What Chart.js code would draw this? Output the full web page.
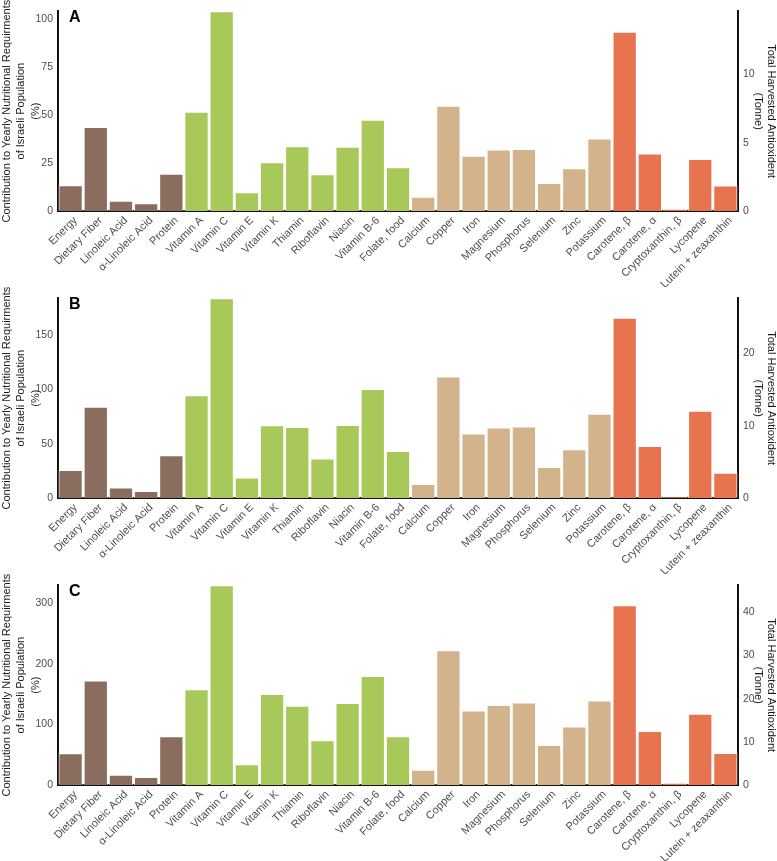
<!DOCTYPE html>
<html>
<head>
<meta charset="utf-8">
<script src="https://cdn.jsdelivr.net/npm/chart.js@4.4.0/dist/chart.umd.min.js"></script>
<style>
  body { margin: 0; background: #fff; }
  .panel { width: 777px; height: 287px; position: relative; }
</style>
</head>
<body>
<div class="panel"><canvas id="chartA" width="777" height="287"></canvas></div>
<div class="panel"><canvas id="chartB" width="777" height="287"></canvas></div>
<div class="panel"><canvas id="chartC" width="777" height="287"></canvas></div>
<script>
var nutrients = ['Energy', 'Dietary Fiber', 'Linoleic Acid', 'α-Linoleic Acid', 'Protein',
  'Vitamin A', 'Vitamin C', 'Vitamin E', 'Vitamin K', 'Thiamin', 'Riboflavin', 'Niacin', 'Vitamin B-6', 'Folate, food',
  'Calcium', 'Copper', 'Iron', 'Magnesium', 'Phosphorus', 'Selenium', 'Zinc', 'Potassium'];
var antioxidants = ['Carotene, β', 'Carotene, α', 'Cryptoxanthin, β', 'Lycopene', 'Lutein + zeaxanthin'];

// how many bars in each colour group (macro, vitamins, minerals)
var groupSizes = [5, 9, 8];

// % of yearly requirement (left axis)
var nutrientsA = [13.5, 43.8, 5.3, 4, 19.5, 51.8, 104.2, 9.8, 25.5, 33.8, 19.2, 33.5, 47.6, 22.8, 7.4, 54.9, 28.8, 32.1, 32.4, 14.6, 22.3, 37.8];
var nutrientsB = [25.9, 84, 9.7, 6.4, 39.3, 94.7, 184, 18.9, 67, 65.5, 36.3, 67.3, 100.5, 43.3, 12.8, 112, 59.4, 64.9, 65.8, 28.6, 45, 77.7];
var nutrientsC = [52.5, 172.6, 16.9, 13.1, 80.3, 157.9, 329.5, 34.4, 150.3, 130.6, 73.8, 135.5, 179.8, 80.3, 25.1, 222.4, 123, 132.2, 136, 66, 96.7, 139.3];

// tonnes harvested (right axis)
var antioxA = [13.1, 4.2, 0.17, 3.8, 1.86];
var antioxB = [24.9, 7.2, 0.22, 12.05, 3.5];
var antioxC = [41.7, 12.5, 0.5, 16.5, 7.4];

var panelLetters = ['A', 'B', 'C'];
var leftMax = [104.2, 184, 329.5];
var leftStep = [25, 50, 100];
var rightMax = [14.6, 27.6, 46.3];
var rightStep = [5, 10, 10];

var groupColors = ['#8b6d60', '#a8c85a', '#d2b38b'];
var antioxColor = '#e8744f';

var labels = nutrients.concat(antioxidants);
var barColors = [];
groupSizes.forEach(function (n, g) {
  for (var i = 0; i < n; i++) barColors.push(groupColors[g]);
});
antioxidants.forEach(function () { barColors.push(antioxColor); });

function blanks(n) { var a = []; for (var i = 0; i < n; i++) a.push(null); return a; }

var letterPlugin = {
  id: 'panelLetter',
  afterDraw: function (chart) {
    var ctx = chart.ctx, area = chart.chartArea;
    ctx.save();
    ctx.font = 'bold 16px "Liberation Sans", Arial, sans-serif';
    ctx.fillStyle = '#000';
    ctx.textAlign = 'left';
    ctx.textBaseline = 'alphabetic';
    ctx.fillText(chart.options.plugins.panelLetter.text, area.left + 11, area.top + 11);
    ctx.restore();
  }
};

Chart.defaults.font.family = '"Liberation Sans", Arial, sans-serif';
Chart.defaults.animation = false;

function makeChart(id, idx, nutVals, antVals) {
  new Chart(document.getElementById(id), {
    type: 'bar',
    data: {
      labels: labels,
      datasets: [{
        data: nutVals.concat(blanks(antioxidants.length)),
        backgroundColor: barColors,
        borderColor: 'rgba(255,255,255,0.7)',
        borderWidth: 1,
        yAxisID: 'y',
        grouped: false,
        barPercentage: 0.965,
        categoryPercentage: 1
      }, {
        data: blanks(nutrients.length).concat(antVals),
        backgroundColor: barColors,
        borderColor: 'rgba(255,255,255,0.7)',
        borderWidth: 1,
        yAxisID: 'y1',
        grouped: false,
        barPercentage: 0.965,
        categoryPercentage: 1
      }]
    },
    options: {
      responsive: false,
      maintainAspectRatio: false,
      layout: { padding: { top: 10, left: 0, right: 0, bottom: 0 } },
      plugins: {
        legend: { display: false },
        tooltip: { enabled: false },
        panelLetter: { text: panelLetters[idx] }
      },
      scales: {
        x: {
          grid: { display: false, drawTicks: false },
          border: { display: true, color: '#111', width: 2 },
          ticks: {
            autoSkip: false, maxRotation: 45, minRotation: 45, padding: 3, labelOffset: 5,
            color: '#4d4d4d', font: { size: 11 }
          },
          afterFit: function (s) { s.height = 76; }
        },
        y: {
          position: 'left',
          min: 0, max: leftMax[idx],
          grid: { display: false, drawTicks: false },
          border: { display: true, color: '#111', width: 2 },
          ticks: { stepSize: leftStep[idx], includeBounds: false, padding: 5, color: '#4d4d4d', font: { size: 10.5 } },
          title: {
            display: true,
            text: ['Contribution to Yearly Nutritional Requirments', 'of Israeli Population', '(%)'],
            color: '#1a1a1a', font: { size: 11, lineHeight: 1.3 }, padding: 0
          },
          afterFit: function (s) { s.width = 58; }
        },
        y1: {
          position: 'right',
          min: 0, max: rightMax[idx],
          grid: { display: false, drawTicks: false },
          border: { display: true, color: '#111', width: 2 },
          ticks: { stepSize: rightStep[idx], includeBounds: false, padding: 5, color: '#4d4d4d', font: { size: 10.5 } },
          title: {
            display: true,
            text: ['Total Harvested Antioxident', '(Tonne)'],
            color: '#1a1a1a', font: { size: 11, lineHeight: 1.15 }, padding: 0
          },
          afterFit: function (s) { s.width = 39; }
        }
      }
    },
    plugins: [letterPlugin]
  });
}

makeChart('chartA', 0, nutrientsA, antioxA);
makeChart('chartB', 1, nutrientsB, antioxB);
makeChart('chartC', 2, nutrientsC, antioxC);
</script>
</body>
</html>
